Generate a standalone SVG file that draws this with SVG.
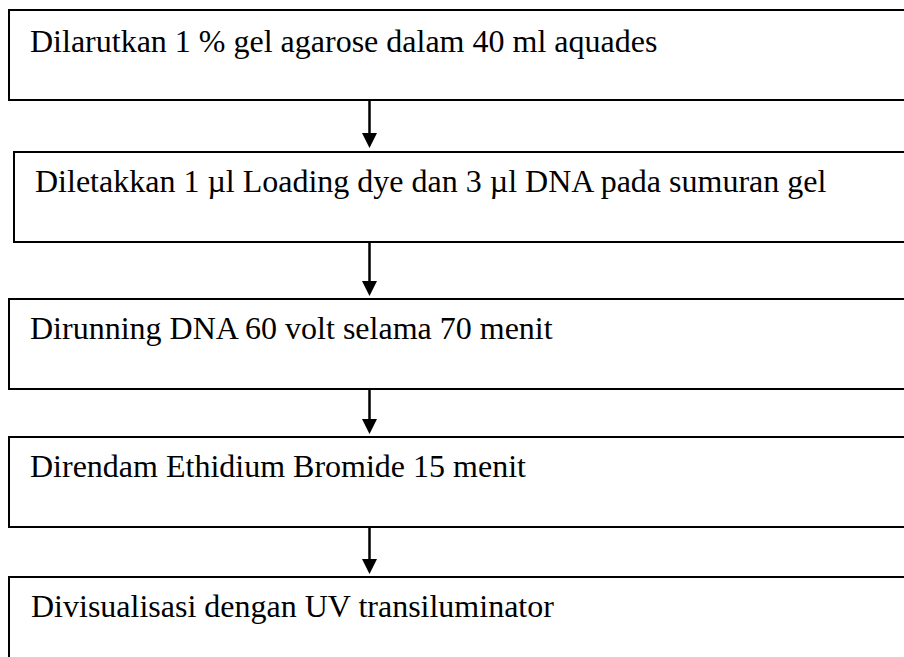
<svg xmlns="http://www.w3.org/2000/svg" width="904" height="657" viewBox="0 0 904 657">
<style>
.box{fill:#fff;stroke:#000;stroke-width:2}
.t{font-family:"Liberation Serif","Times New Roman",serif;font-size:32px;fill:#000}
.c{stroke:#000;stroke-width:2.5;fill:none}
.h{fill:#000}
</style>
<rect x="0" y="0" width="904" height="657" fill="#fff"/>
<g id="n1"><rect class="box" x="9" y="10" width="1000" height="90"/><text class="t" x="30" y="51.5">Dilarutkan 1 % gel agarose dalam 40 ml aquades</text></g>
<g id="n2"><rect class="box" x="14" y="152" width="1000" height="90"/><text class="t" x="35" y="191.5">Diletakkan 1 µl Loading dye dan 3 µl DNA pada sumuran gel</text></g>
<g id="n3"><rect class="box" x="9" y="299" width="1000" height="90"/><text class="t" x="30" y="339">Dirunning DNA 60 volt selama 70 menit</text></g>
<g id="n4"><rect class="box" x="9" y="437" width="1000" height="90"/><text class="t" x="30" y="477">Direndam Ethidium Bromide 15 menit</text></g>
<g id="n5"><rect class="box" x="9" y="577" width="1000" height="200"/><text class="t" x="31" y="617">Divisualisasi dengan UV transiluminator</text></g>
<g id="connectors">
<line class="c" x1="369.5" y1="100" x2="369.5" y2="135"/><polygon class="h" points="362,133 377,133 369.5,148"/>
<line class="c" x1="369.5" y1="242" x2="369.5" y2="283"/><polygon class="h" points="362,281 377,281 369.5,296"/>
<line class="c" x1="369.5" y1="389" x2="369.5" y2="421"/><polygon class="h" points="362,419 377,419 369.5,434"/>
<line class="c" x1="369.5" y1="527" x2="369.5" y2="561"/><polygon class="h" points="362,559 377,559 369.5,574"/>
</g>
</svg>
